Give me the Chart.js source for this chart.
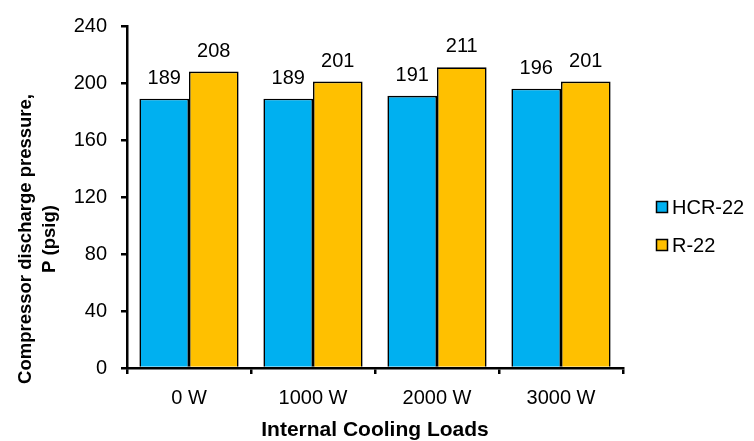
<!DOCTYPE html>
<html>
<head>
<meta charset="utf-8">
<script src="https://cdn.jsdelivr.net/npm/chart.js@4.4.1/dist/chart.umd.min.js"></script>
<style>
  html, body { margin: 0; padding: 0; background: #fff; }
  #wrap { width: 754px; height: 441px; }
</style>
</head>
<body>
<div id="wrap"><canvas id="chart" width="754" height="441"></canvas></div>
<script>
// Datos
const cargas = ['0 W', '1000 W', '2000 W', '3000 W'];
const hcr22 = [189, 189, 191, 196];
const r22 = [208, 201, 211, 201];
const yTicks = [0, 40, 80, 120, 160, 200, 240];
const yTitulo = ['Compressor discharge pressure,', 'P (psig)'];

const FONT = 'Liberation Sans, Arial, sans-serif';

// Etiquetas de valor encima de las barras
const valueLabels = {
  id: 'valueLabels',
  afterDatasetsDraw(chart) {
    const ctx = chart.ctx;
    ctx.save();
    ctx.font = `20px ${FONT}`;
    ctx.fillStyle = '#000';
    ctx.textAlign = 'center';
    ctx.textBaseline = 'alphabetic';
    chart.data.datasets.forEach((ds, i) => {
      chart.getDatasetMeta(i).data.forEach((bar, j) => {
        ctx.fillText(String(ds.data[j]), bar.x, bar.y - 15);
      });
    });
    ctx.restore();
  }
};

// Titulo del eje Y (desplazado hacia abajo como en el original)
const yTitle = {
  id: 'yTitle',
  afterDraw(chart) {
    const ctx = chart.ctx;
    ctx.save();
    ctx.translate(0, 239);
    ctx.rotate(-Math.PI / 2);
    ctx.font = `bold 18.5px ${FONT}`;
    ctx.fillStyle = '#000';
    ctx.textAlign = 'center';
    ctx.textBaseline = 'middle';
    ctx.fillText(yTitulo[0], 0, 26);
    ctx.fillText(yTitulo[1], 0, 50);
    ctx.restore();
  }
};

// Leyenda a la derecha
const sideLegend = {
  id: 'sideLegend',
  afterDraw(chart) {
    const ctx = chart.ctx;
    ctx.save();
    ctx.font = `20px ${FONT}`;
    ctx.textBaseline = 'middle';
    const rows = [207, 245];
    chart.data.datasets.forEach((ds, i) => {
      const y = rows[i];
      ctx.fillStyle = ds.backgroundColor;
      ctx.fillRect(656, y - 6, 12, 12);
      ctx.strokeStyle = '#000';
      ctx.lineWidth = 1.5;
      ctx.strokeRect(656.5, y - 5.5, 11, 11);
      ctx.fillStyle = '#000';
      ctx.fillText(ds.label, 672, y + 1);
    });
    ctx.restore();
  }
};

new Chart(document.getElementById('chart'), {
  type: 'bar',
  data: {
    labels: cargas,
    datasets: [
      { label: 'HCR-22', data: hcr22, backgroundColor: '#00B0F0', borderColor: '#000', borderWidth: 1.6 },
      { label: 'R-22', data: r22, backgroundColor: '#FFC000', borderColor: '#000', borderWidth: 1.6 }
    ]
  },
  options: {
    responsive: false,
    animation: false,
    layout: { padding: { left: 0, top: 18, right: 131, bottom: 0 } },
    datasets: { bar: { categoryPercentage: 0.8, barPercentage: 1.0 } },
    plugins: {
      legend: { display: false },
      tooltip: { enabled: false }
    },
    scales: {
      x: {
        grid: { display: true, drawOnChartArea: false, color: '#000', tickLength: 6, lineWidth: 2.5 },
        border: { display: true, color: '#000', width: 2.5 },
        ticks: { color: '#000', font: { family: FONT, size: 20 }, padding: 12 },
        title: { display: true, text: 'Internal Cooling Loads', color: '#000', font: { family: FONT, size: 21, weight: 'bold' }, padding: { top: 9, bottom: -2 } },
        afterFit: (s) => { s.height = 73; }
      },
      y: {
        min: 0,
        max: 240,
        afterBuildTicks: (s) => { s.ticks = yTicks.map(v => ({ value: v })); },
        grid: { display: true, drawOnChartArea: false, color: '#000', tickLength: 6, lineWidth: 2.5 },
        border: { display: true, color: '#000', width: 2.5 },
        ticks: { color: '#000', font: { family: FONT, size: 20 }, padding: 14 },
        title: { display: false },
        afterFit: (s) => { s.width = 127; }
      }
    }
  },
  plugins: [valueLabels, yTitle, sideLegend]
});
</script>
</body>
</html>
